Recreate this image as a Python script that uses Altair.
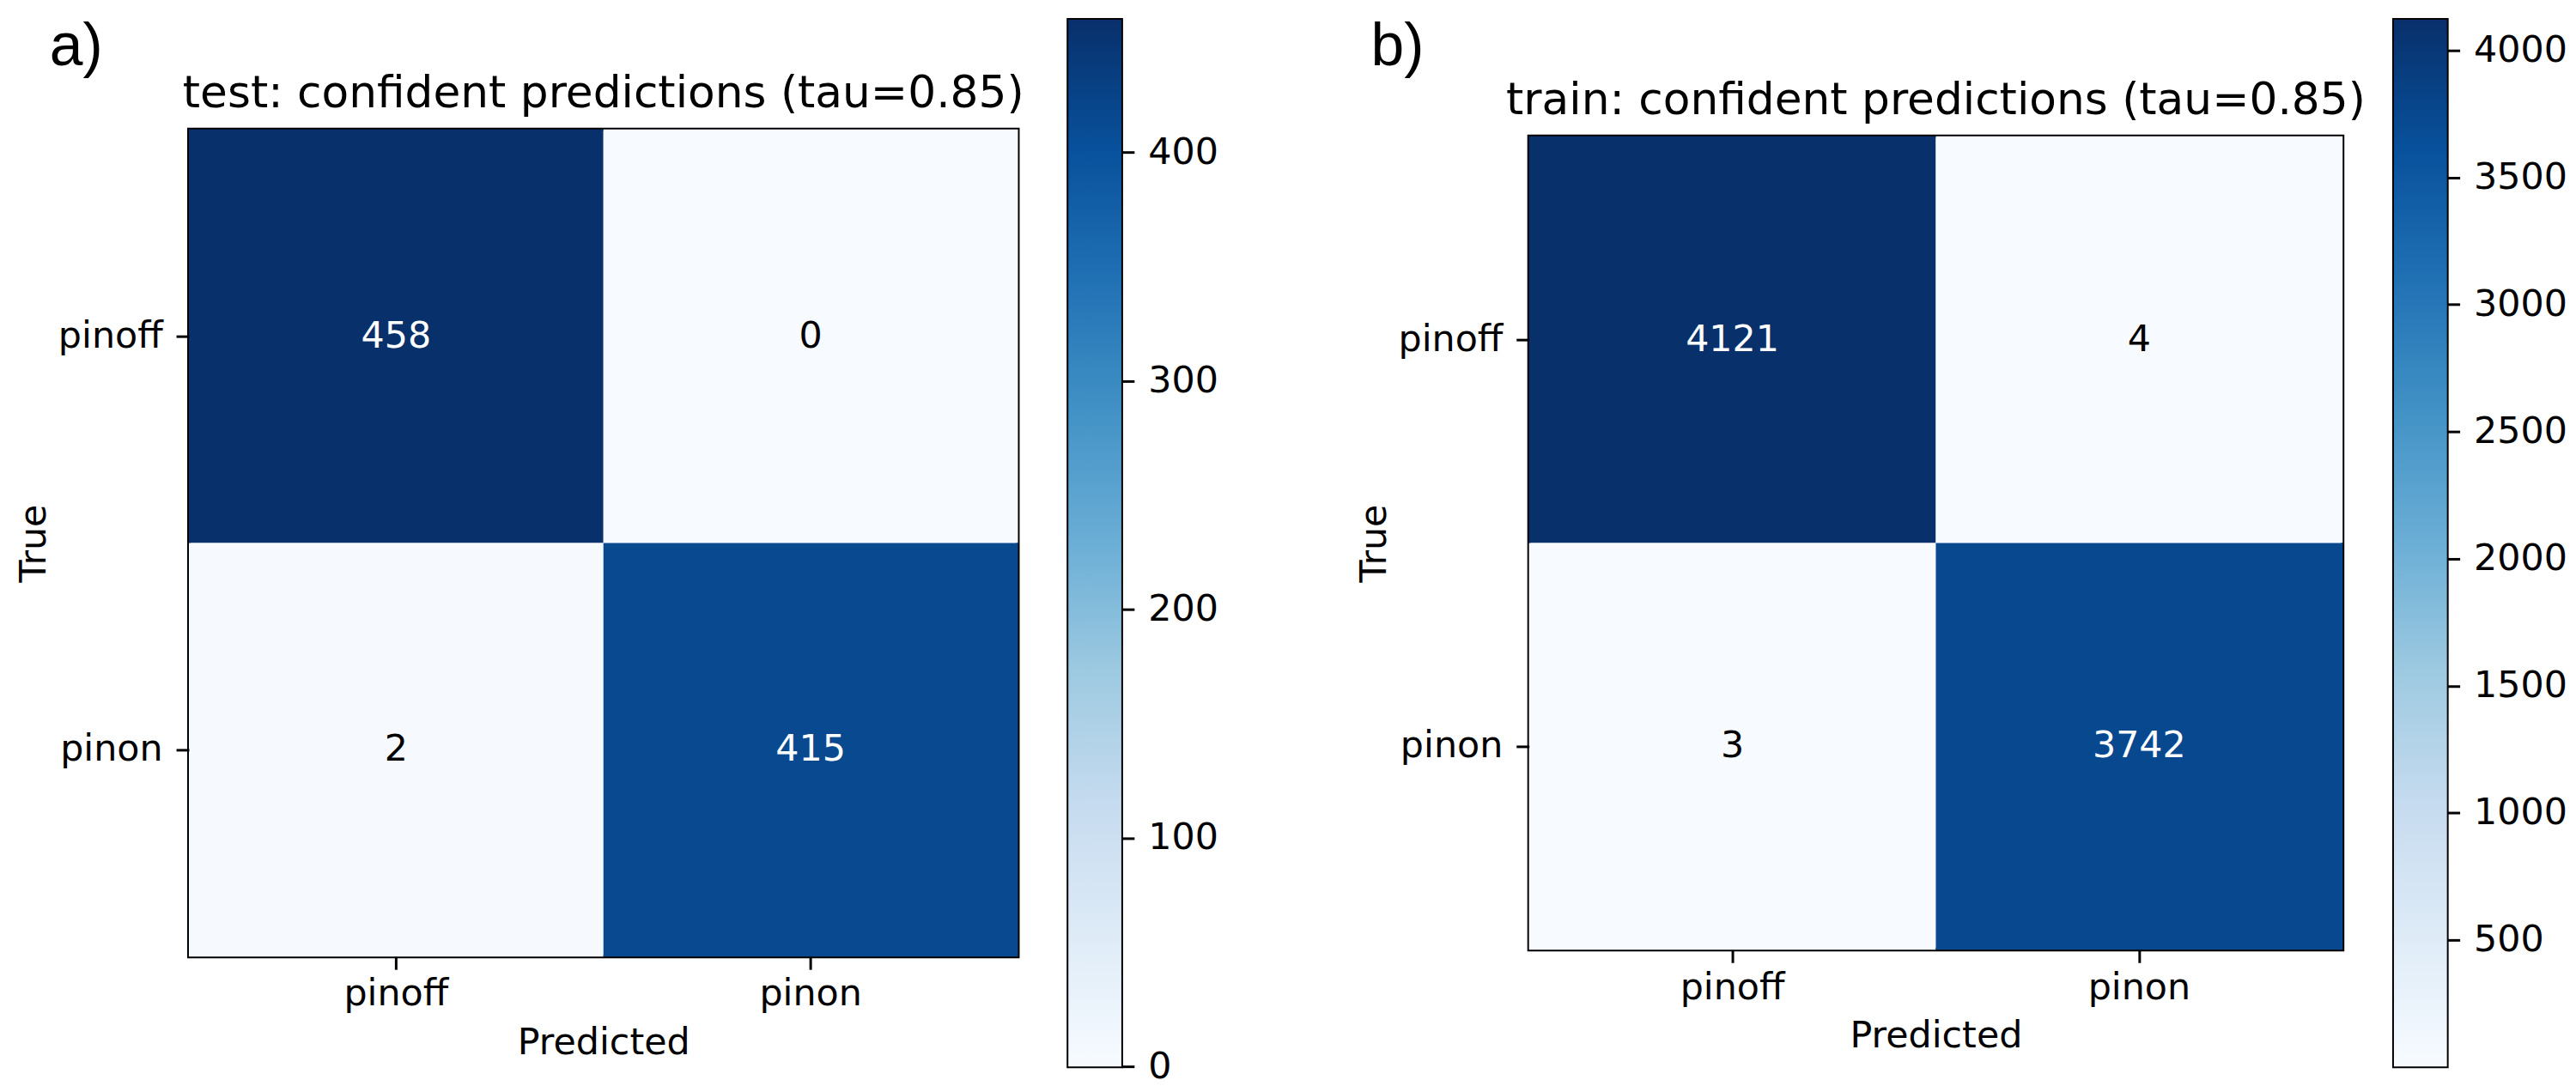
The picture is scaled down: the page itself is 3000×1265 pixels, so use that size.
import altair as alt
import pandas as pd

# ---- data ----
classes = ["pinoff", "pinon"]
test_counts = [[458, 0], [2, 415]]      # rows = True, cols = Predicted
train_counts = [[4121, 4], [3, 3742]]
titles = ["test: confident predictions (tau=0.85)",
          "train: confident predictions (tau=0.85)"]
panel_labels = ["a)", "b)"]
test_ticks = [0, 100, 200, 300, 400]
train_ticks = [500, 1000, 1500, 2000, 2500, 3000, 3500, 4000]
blues = ["#f7fbff", "#deebf7", "#c6dbef", "#9ecae1", "#6baed6",
         "#4292c6", "#2171b5", "#08519c", "#08306b"]

FONT = "DejaVu Sans"


def panel(counts, title, label, ticks, w, h, label_x, label_y, cbar_gap):
    rows = []
    for i, t in enumerate(classes):
        for j, p in enumerate(classes):
            rows.append({"True": t, "Predicted": p, "n": counts[i][j]})
    df = pd.DataFrame(rows)
    vmin = float(df["n"].min())
    vmax = float(df["n"].max())
    nstop = len(blues) - 1
    stops = [vmin + (vmax - vmin) * k / nstop for k in range(len(blues))]
    thresh = (vmin + vmax) / 2

    xenc = alt.X("Predicted:N", sort=classes,
                 scale=alt.Scale(paddingInner=0, paddingOuter=0),
                 axis=alt.Axis(title="Predicted", labelAngle=0, bandPosition=0.5,
                               labelPadding=8, titlePadding=14, zindex=1))
    yenc = alt.Y("True:N", sort=classes,
                 scale=alt.Scale(paddingInner=0, paddingOuter=0),
                 axis=alt.Axis(title="True", bandPosition=0.5,
                               labelPadding=16, titlePadding=6, zindex=1))

    base = alt.Chart(df)
    heat = base.mark_rect().encode(
        x=xenc, y=yenc,
        color=alt.Color("n:Q",
                        scale=alt.Scale(domain=stops, range=blues, interpolate="rgb",
                                        nice=False, zero=False),
                        legend=None),
    )
    txt = base.mark_text(font=FONT, fontSize=43).encode(
        x=xenc, y=yenc,
        text=alt.Text("n:Q", format="d"),
        color=alt.condition(alt.datum.n > thresh, alt.value("white"), alt.value("black")),
    )
    ttl = alt.Chart(pd.DataFrame({"t": [title]})).mark_text(
        font=FONT, fontSize=52, align="center", baseline="alphabetic", color="black"
    ).encode(text="t:N", x=alt.value(w / 2), y=alt.value(-26))
    lab = alt.Chart(pd.DataFrame({"t": [label]})).mark_text(
        font="Liberation Sans", fontSize=70, align="left", baseline="alphabetic", color="black"
    ).encode(text="t:N", x=alt.value(label_x), y=alt.value(label_y))
    heat_panel = alt.layer(heat, txt, ttl, lab).properties(width=w, height=h)

    # colorbar: one rect spanning the data range, filled with the same Blues ramp
    grad = alt.LinearGradient(
        gradient="linear",
        stops=[alt.GradientStop(offset=k / nstop, color=c) for k, c in enumerate(blues)],
        x1=0, x2=0, y1=1, y2=0,
    )
    cbar = alt.Chart(pd.DataFrame({"lo": [vmin], "hi": [vmax]})).mark_rect(fill=grad).encode(
        y=alt.Y("lo:Q",
                scale=alt.Scale(domain=[vmin, vmax], nice=False, zero=False),
                axis=alt.Axis(orient="right", values=ticks, title=None, format="d",
                              labelPadding=16, labelFlush=False, labelOverlap=False)),
        y2="hi:Q",
    ).properties(width=62, height=1225)

    return alt.hconcat(heat_panel, cbar, spacing=cbar_gap, bounds="flush", center=True)


pa = panel(test_counts, titles[0], panel_labels[0], test_ticks,
           970, 968, -163, -75, 59)
pb = panel(train_counts, titles[1], panel_labels[1], train_ticks,
           952, 952, -185, -83, 60)

chart = alt.hconcat(pa, pb, spacing=156).resolve_scale(
    color="independent", y="independent"
).configure_view(
    stroke="black", strokeWidth=4
).configure_axis(
    labelFont=FONT, labelFontSize=43, labelColor="black",
    titleFont=FONT, titleFontSize=43, titleFontWeight="normal", titleColor="black",
    tickColor="black", tickWidth=3, tickSize=15, domain=False, grid=False
).properties(padding={"left": 8, "top": 7, "right": 0, "bottom": 0}, background="white")

chart.save("out.html", embed_options={"renderer": "svg", "actions": False})
